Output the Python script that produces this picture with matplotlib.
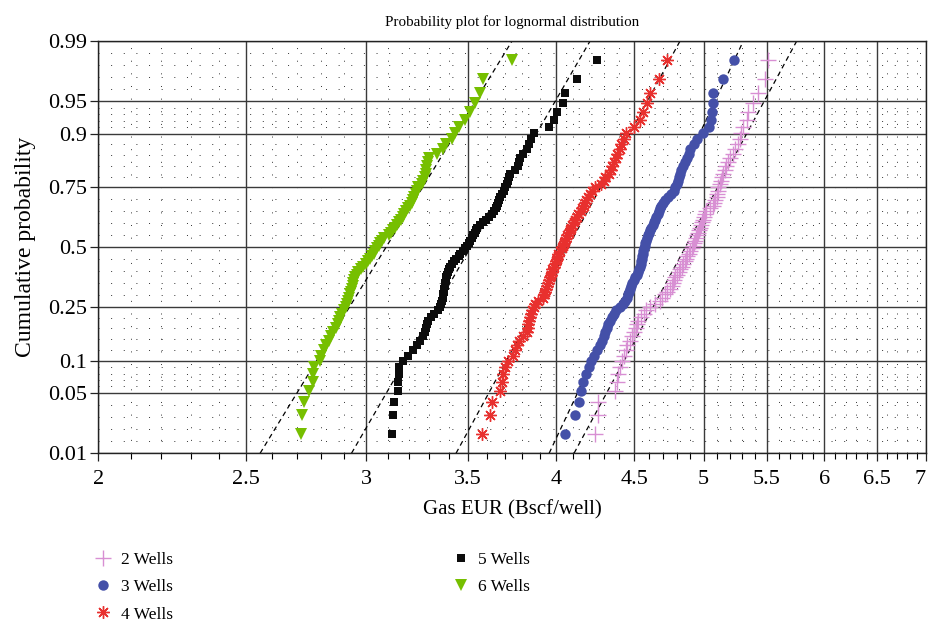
from statistics import NormalDist
import numpy as np
import matplotlib
matplotlib.use("Agg")
import matplotlib.pyplot as plt
from matplotlib.ticker import FixedLocator, FixedFormatter, NullFormatter

plt.rcParams['font.family'] = ['Liberation Serif', 'DejaVu Serif']

# each case has 86 sorted EUR values; ranks 1 and 86 plot outside 0.01-0.99
n_sample = 86
ranks = np.arange(2, 86)
cum_prob = (ranks - 0.5) / n_sample

eur_2wells = [4.242, 4.259, 4.263, 4.372, 4.384, 4.394, 4.405, 4.419, 4.432, 4.445,
              4.452, 4.469, 4.486, 4.499, 4.510, 4.520, 4.530, 4.548, 4.565, 4.579,
              4.610, 4.645, 4.680, 4.694, 4.716, 4.730, 4.752, 4.763, 4.773, 4.781,
              4.791, 4.802, 4.813, 4.824, 4.835, 4.846, 4.857, 4.868, 4.876, 4.890,
              4.901, 4.909, 4.920, 4.928, 4.931, 4.939, 4.950, 4.957, 4.965, 4.969,
              4.976, 4.984, 4.991, 4.999, 5.010, 5.021, 5.048, 5.071, 5.082, 5.090,
              5.099, 5.103, 5.108, 5.113, 5.125, 5.136, 5.144, 5.151, 5.160, 5.168,
              5.184, 5.203, 5.223, 5.243, 5.267, 5.279, 5.294, 5.310, 5.336, 5.349,
              5.390, 5.431, 5.487, 5.514]
eur_3wells = [4.054, 4.115, 4.143, 4.151, 4.167, 4.184, 4.200, 4.216, 4.235, 4.255,
              4.271, 4.284, 4.297, 4.307, 4.316, 4.326, 4.336, 4.349, 4.363, 4.379,
              4.402, 4.422, 4.439, 4.449, 4.459, 4.466, 4.472, 4.479, 4.489, 4.496,
              4.506, 4.517, 4.524, 4.534, 4.541, 4.544, 4.548, 4.552, 4.557, 4.559,
              4.563, 4.568, 4.572, 4.577, 4.583, 4.592, 4.598, 4.604, 4.610, 4.620,
              4.629, 4.638, 4.645, 4.652, 4.663, 4.671, 4.680, 4.690, 4.699, 4.712,
              4.734, 4.759, 4.777, 4.791, 4.802, 4.808, 4.815, 4.821, 4.828, 4.843,
              4.857, 4.874, 4.887, 4.901, 4.924, 4.950, 4.995, 5.043, 5.053, 5.061,
              5.069, 5.069, 5.151, 5.235]
eur_4wells = [3.574, 3.619, 3.631, 3.674, 3.685, 3.691, 3.699, 3.719, 3.744, 3.755,
              3.767, 3.781, 3.803, 3.824, 3.830, 3.834, 3.839, 3.844, 3.850, 3.856,
              3.865, 3.874, 3.891, 3.921, 3.927, 3.933, 3.939, 3.945, 3.951, 3.954,
              3.960, 3.966, 3.972, 3.975, 3.984, 3.990, 3.996, 4.002, 4.008, 4.013,
              4.023, 4.032, 4.041, 4.047, 4.054, 4.060, 4.066, 4.075, 4.084, 4.090,
              4.099, 4.109, 4.118, 4.126, 4.134, 4.150, 4.158, 4.169, 4.178, 4.187,
              4.197, 4.210, 4.223, 4.242, 4.277, 4.297, 4.307, 4.330, 4.343, 4.353,
              4.363, 4.376, 4.386, 4.402, 4.415, 4.429, 4.445, 4.499, 4.541, 4.563,
              4.591, 4.610, 4.674, 4.728]
eur_5wells = [3.121, 3.126, 3.131, 3.148, 3.150, 3.151, 3.153, 3.172, 3.196, 3.221,
              3.238, 3.255, 3.270, 3.277, 3.282, 3.287, 3.294, 3.309, 3.324, 3.345,
              3.355, 3.360, 3.365, 3.368, 3.370, 3.373, 3.373, 3.378, 3.380, 3.383,
              3.385, 3.388, 3.393, 3.401, 3.408, 3.416, 3.424, 3.437, 3.450, 3.460,
              3.471, 3.484, 3.495, 3.505, 3.513, 3.519, 3.527, 3.535, 3.540, 3.548,
              3.562, 3.578, 3.594, 3.613, 3.630, 3.641, 3.649, 3.655, 3.660, 3.666,
              3.674, 3.685, 3.693, 3.702, 3.710, 3.716, 3.724, 3.730, 3.758, 3.775,
              3.781, 3.786, 3.806, 3.827, 3.839, 3.850, 3.868, 3.957, 3.989, 4.003,
              4.043, 4.054, 4.125, 4.256]
eur_6wells = [2.717, 2.721, 2.732, 2.752, 2.767, 2.767, 2.773, 2.797, 2.802, 2.815,
              2.823, 2.836, 2.845, 2.853, 2.866, 2.875, 2.879, 2.884, 2.892, 2.901,
              2.910, 2.914, 2.919, 2.923, 2.928, 2.932, 2.937, 2.939, 2.941, 2.946,
              2.950, 2.957, 2.964, 2.975, 2.986, 2.999, 3.008, 3.018, 3.027, 3.034,
              3.041, 3.050, 3.057, 3.064, 3.073, 3.084, 3.105, 3.115, 3.124, 3.136,
              3.143, 3.153, 3.160, 3.170, 3.179, 3.187, 3.196, 3.206, 3.213, 3.221,
              3.225, 3.233, 3.240, 3.247, 3.262, 3.270, 3.279, 3.282, 3.286, 3.288,
              3.292, 3.300, 3.340, 3.370, 3.385, 3.416, 3.429, 3.453, 3.482, 3.511,
              3.538, 3.565, 3.582, 3.743]

labels = ["2 Wells", "3 Wells", "4 Wells", "5 Wells", "6 Wells"]
# fitted lognormal lines, EUR at P=0.01 and P=0.99
fit_p01 = [4.109, 3.957, 3.437, 2.934, 2.555]
fit_p99 = [5.756, 5.309, 4.824, 4.210, 3.741]

x_ticks = [2, 2.5, 3, 3.5, 4, 4.5, 5, 5.5, 6, 6.5, 7]
x_ticklabels = ["2", "2.5", "3", "3.5", "4", "4.5", "5", "5.5", "6", "6.5", "7"]
p_ticks = [0.01, 0.05, 0.1, 0.25, 0.5, 0.75, 0.9, 0.95, 0.99]
p_ticklabels = ["0.01", "0.05", "0.1", "0.25", "0.5", "0.75", "0.9", "0.95", "0.99"]

colors = ["#d88fd3", "#4450a8", "#e8302e", "#0c0c0c", "#76bf00"]
markers = ["+", "o", (8, 2, 0), "s", "v"]
msizes = [12, 7.5, 9, 6, 8]

nd = NormalDist()
ppf = np.vectorize(lambda p: nd.inv_cdf(min(max(p, 1e-9), 1 - 1e-9)), otypes=[float])
cdf = np.vectorize(nd.cdf, otypes=[float])

fig = plt.figure(figsize=(9.29, 6.24), dpi=100)
ax = fig.add_axes([0.1058, 0.2736, 0.891, 0.6607])

series = [eur_2wells, eur_3wells, eur_4wells, eur_5wells, eur_6wells]
for vals, lab, c, m, ms in zip(series, labels, colors, markers, msizes):
    mew = 1.0 if m == "+" or isinstance(m, tuple) else 0
    ax.plot(vals, cum_prob, linestyle="none", marker=m, ms=ms, color=c,
            mec=c, mew=mew, label=lab, zorder=3)

for lo, hi in zip(fit_p01, fit_p99):
    ax.plot([lo, hi], [0.01, 0.99], color="black", lw=0.9, dashes=(4, 3), zorder=2)

ax.set_xscale("log")
ax.set_yscale("function", functions=(ppf, cdf))
ax.set_xlim(2, 7)
ax.set_ylim(0.01, 0.99)

ax.xaxis.set_major_locator(FixedLocator(x_ticks))
ax.xaxis.set_major_formatter(FixedFormatter(x_ticklabels))
x_minor = [v / 10 for v in range(21, 70) if v % 5 != 0]
ax.xaxis.set_minor_locator(FixedLocator(x_minor))
ax.xaxis.set_minor_formatter(NullFormatter())

ax.yaxis.set_major_locator(FixedLocator(p_ticks))
ax.yaxis.set_major_formatter(FixedFormatter(p_ticklabels))
z_major = ppf(np.array(p_ticks))
y_minor = []
for za, zb in zip(z_major[:-1], z_major[1:]):
    y_minor.extend(cdf(np.linspace(za, zb, 6)[1:-1]))
ax.yaxis.set_minor_locator(FixedLocator(y_minor))
ax.yaxis.set_minor_formatter(NullFormatter())

ax.grid(which="major", color="#3a3a3a", lw=1.0)
ax.grid(which="minor", color="#333333", lw=0.7, ls=(0, (1, 12)))
ax.set_axisbelow(True)

ax.tick_params(axis="both", which="major", direction="out", length=6,
               width=0.9, labelsize=16, color="#222222")
ax.tick_params(axis="x", which="major", pad=6)
ax.tick_params(axis="y", which="major", pad=2)
ax.tick_params(axis="x", which="minor", direction="out", length=4, width=0.8)
ax.tick_params(axis="y", which="minor", length=0)
for s in ax.spines.values():
    s.set_color("#222222")
    s.set_linewidth(1.0)
# keep the last x label inside the figure edge
ax.get_xticklabels()[-1].set_horizontalalignment("right")

ax.set_title("Probability plot for lognormal distribution", fontsize=10.8, pad=11)
ax.set_xlabel("Gas EUR (Bscf/well)", fontsize=15, labelpad=8)
ax.set_ylabel("Cumulative probability", fontsize=17, labelpad=9)

fig.legend(loc="upper left", bbox_to_anchor=(0.102, 0.1162), ncol=2,
           frameon=False, fontsize=12.5, borderpad=0, borderaxespad=0,
           handlelength=1.0, handletextpad=0.5, labelspacing=0.65,
           columnspacing=16.1)

fig.savefig("out.png", dpi=100)
